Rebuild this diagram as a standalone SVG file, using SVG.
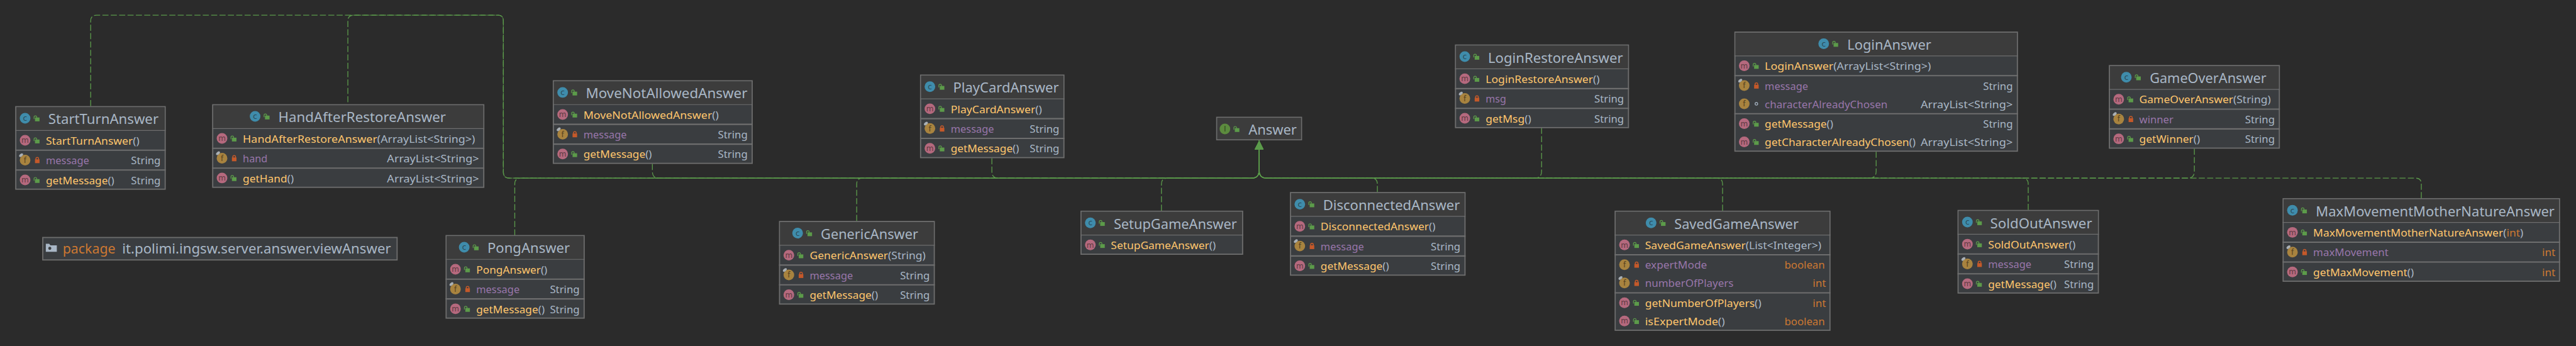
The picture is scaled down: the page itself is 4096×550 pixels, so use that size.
<svg xmlns="http://www.w3.org/2000/svg" width="4096" height="550" viewBox="0 0 4096 550">
<style>
text{font-family:"Noto Sans","Open Sans","Liberation Sans",sans-serif;font-size:28px;fill:#a9b7c6}
.t{font-size:35px}
.n{fill:#ffc66d}
.f{fill:#9876aa}
.p{fill:#cc7832}
.e{text-anchor:end}
.k{font-size:35px}
.l{font-family:"DejaVu Sans",sans-serif;font-size:20px;text-anchor:middle}
.fr{fill:#3a3d40;stroke:#6e6e6e;stroke-width:3}
.hd{fill:#3c3c3c}
.s1{stroke:#6e6e6e;stroke-width:2;fill:none}
.s2{stroke:#6e6e6e;stroke-width:3.5;fill:none}
.c{fill:none;stroke:#5b9a4b;stroke-width:2.2;stroke-dasharray:16 6;marker-end:url(#arr)}
</style>
<defs>
<marker id="arr" viewBox="0 0 24 24" markerUnits="userSpaceOnUse" markerWidth="24" markerHeight="24" refX="24" refY="12" orient="auto"><path d="M0 0L24 12L0 24Z" fill="#5b9a4b"/></marker>
<g id="pub"><path d="M23.5 2V-3a3.5 3.5 0 0 1 7 0V-1.5" fill="none" stroke="#5c9b4a" stroke-width="2"/><rect x="26" y="-2" width="12" height="10" fill="#5c9b4a"/></g>
<g id="pri"><path d="M28.5 0V-3.5a3.5 3.5 0 0 1 7 0V0" fill="none" stroke="#c4592a" stroke-width="2.5"/><rect x="26" y="-2" width="12" height="10" fill="#c4592a"/></g>
<g id="cc"><circle r="14" fill="#3f8cab"/><text class="l" y="7" style="fill:#2b4a57">c</text><use href="#pub"/></g>
<g id="ci"><circle r="14" fill="#5c8b3e"/><text class="l" y="7" style="fill:#2f4720">I</text><use href="#pub"/></g>
<g id="mp"><circle r="14" fill="#b5697e"/><text class="l" y="7" style="fill:#5e3a42">m</text><use href="#pub"/></g>
<g id="fb"><circle r="14" fill="#a8833f"/><text class="l" y="7" style="fill:#54401d">f</text></g>
<g id="fp"><use href="#fb"/><use href="#pri"/></g>
<g id="ff"><use href="#fp"/><ellipse cx="-10.5" cy="-13" rx="6" ry="3.5" transform="rotate(-40 -10.5 -13)" fill="#aab0b5"/></g>
<g id="fk"><use href="#fb"/><circle cx="32" r="3.5" fill="none" stroke="#a9b7c6" stroke-width="2"/></g>
</defs>
<rect width="4096" height="550" fill="#2b2b2b"/>
<g transform="scale(0.6045)">
<g id="connectors">
<path class="c" d="M238.5 279V55Q238.5 40 254 40H1310Q1324 40 1324 55V453Q1324 468.5 1340 468.5H3292Q3312 468.5 3312 448V370"/>
<path class="c" style="stroke-dashoffset:-5" d="M915 274V55Q915 40 930 40H1310Q1324 40 1324 55V453Q1324 468.5 1340 468.5H3292Q3312 468.5 3312 448V370"/>
<path class="c" d="M1354 619V484Q1354 468.5 1369 468.5H3292Q3312 468.5 3312 448V370"/>
<path class="c" d="M1716 431V450Q1716 468.5 1732 468.5H3292Q3312 468.5 3312 448V370"/>
<path class="c" d="M2253.5 581V484Q2253.5 468.5 2268 468.5H3292Q3312 468.5 3312 448V370"/>
<path class="c" d="M2609 416V450Q2609 468.5 2625 468.5H3292Q3312 468.5 3312 448V370"/>
<path class="c" d="M3055 554V484Q3055 468.5 3070 468.5H3292Q3312 468.5 3312 448V370"/>
<path class="c" d="M3623 505V484Q3623 468.5 3608 468.5H3332Q3312 468.5 3312 448V370"/>
<path class="c" d="M4055 336V450Q4055 468.5 4037 468.5H3332Q3312 468.5 3312 448V370"/>
<path class="c" d="M4531 554V484Q4531 468.5 4516 468.5H3332Q3312 468.5 3312 448V370"/>
<path class="c" d="M4935 399V450Q4935 468.5 4917 468.5H3332Q3312 468.5 3312 448V370"/>
<path class="c" d="M5335 552V484Q5335 468.5 5320 468.5H3332Q3312 468.5 3312 448V370"/>
<path class="c" d="M5772 391V450Q5772 468.5 5754 468.5H3332Q3312 468.5 3312 448V370"/>
<path class="c" d="M6369 521V484Q6369 468.5 6354 468.5H3332Q3312 468.5 3312 448V370"/>
</g>
<g id="package" transform="translate(111,623)">
<rect class="fr" x="1.5" y="1.5" width="932" height="59"/>
<path d="M9.5 18h9l3 4h17v17h-29Z" fill="#a9b7c6"/><circle cx="20" cy="30" r="4" fill="#3a3d40"/>
<text class="k p" x="54" y="44.5" textLength="138.6" lengthAdjust="spacingAndGlyphs">package</text>
<text class="k" x="210.4" y="44.5" textLength="707" lengthAdjust="spacingAndGlyphs">it.polimi.ingsw.server.answer.viewAnswer</text>
</g>
<g id="StartTurnAnswer" transform="translate(40,279)">
<rect class="fr" x="1.5" y="1.5" width="393" height="217"/><rect class="hd" x="3" y="3" width="390" height="60"/>
<path class="s1" d="M0 64H396"/><path class="s2" d="M0 116H396M0 168H396"/>
<use href="#cc" x="26" y="32"/><text class="t" x="87" y="47.7" textLength="290" lengthAdjust="spacingAndGlyphs">StartTurnAnswer</text>
<use href="#mp" x="26" y="90"/><text class="n" x="80.7" y="101" textLength="246" lengthAdjust="spacingAndGlyphs">StartTurnAnswer<tspan style="fill:#a9b7c6">()</tspan></text>
<use href="#ff" x="26" y="142"/><text class="f" x="80.7" y="153" textLength="114" lengthAdjust="spacingAndGlyphs">message</text><text class="e" x="382.5" y="153" textLength="78" lengthAdjust="spacingAndGlyphs">String</text>
<use href="#mp" x="26" y="194"/><text class="n" x="80.7" y="205" textLength="180" lengthAdjust="spacingAndGlyphs">getMessage<tspan style="fill:#a9b7c6">()</tspan></text><text class="e" x="382.5" y="205" textLength="78" lengthAdjust="spacingAndGlyphs">String</text>
</g>
<g id="HandAfterRestoreAnswer" transform="translate(558,274)">
<rect class="fr" x="1.5" y="1.5" width="713" height="217"/><rect class="hd" x="3" y="3" width="710" height="60"/>
<path class="s1" d="M0 64H716"/><path class="s2" d="M0 116H716M0 168H716"/>
<use href="#cc" x="113" y="32"/><text class="t" x="174" y="47.7" textLength="441" lengthAdjust="spacingAndGlyphs">HandAfterRestoreAnswer</text>
<use href="#mp" x="26" y="90"/><text class="n" x="80.7" y="101" textLength="611" lengthAdjust="spacingAndGlyphs">HandAfterRestoreAnswer<tspan style="fill:#a9b7c6">(ArrayList&lt;String&gt;)</tspan></text>
<use href="#ff" x="26" y="142"/><text class="f" x="80.7" y="153" textLength="65" lengthAdjust="spacingAndGlyphs">hand</text><text class="e" x="702" y="153" textLength="242" lengthAdjust="spacingAndGlyphs">ArrayList&lt;String&gt;</text>
<use href="#mp" x="26" y="194"/><text class="n" x="80.7" y="205" textLength="134" lengthAdjust="spacingAndGlyphs">getHand<tspan style="fill:#a9b7c6">()</tspan></text><text class="e" x="702" y="205" textLength="242" lengthAdjust="spacingAndGlyphs">ArrayList&lt;String&gt;</text>
</g>
<g id="PongAnswer" transform="translate(1172,618)">
<rect class="fr" x="1.5" y="1.5" width="363" height="217"/><rect class="hd" x="3" y="3" width="360" height="60"/>
<path class="s1" d="M0 64H366"/><path class="s2" d="M0 116H366M0 168H366"/>
<use href="#cc" x="49" y="32"/><text class="t" x="110" y="47.7" textLength="217" lengthAdjust="spacingAndGlyphs">PongAnswer</text>
<use href="#mp" x="26" y="90"/><text class="n" x="80.7" y="101" textLength="187" lengthAdjust="spacingAndGlyphs">PongAnswer<tspan style="fill:#a9b7c6">()</tspan></text>
<use href="#ff" x="26" y="142"/><text class="f" x="80.7" y="153" textLength="114" lengthAdjust="spacingAndGlyphs">message</text><text class="e" x="352.5" y="153" textLength="78" lengthAdjust="spacingAndGlyphs">String</text>
<use href="#mp" x="26" y="194"/><text class="n" x="80.7" y="205" textLength="180" lengthAdjust="spacingAndGlyphs">getMessage<tspan style="fill:#a9b7c6">()</tspan></text><text class="e" x="352.5" y="205" textLength="78" lengthAdjust="spacingAndGlyphs">String</text>
</g>
<g id="MoveNotAllowedAnswer" transform="translate(1454,211)">
<rect class="fr" x="1.5" y="1.5" width="523" height="217"/><rect class="hd" x="3" y="3" width="520" height="60"/>
<path class="s1" d="M0 64H526"/><path class="s2" d="M0 116H526M0 168H526"/>
<use href="#cc" x="26" y="32"/><text class="t" x="87" y="47.7" textLength="425" lengthAdjust="spacingAndGlyphs">MoveNotAllowedAnswer</text>
<use href="#mp" x="26" y="90"/><text class="n" x="80.7" y="101" textLength="356" lengthAdjust="spacingAndGlyphs">MoveNotAllowedAnswer<tspan style="fill:#a9b7c6">()</tspan></text>
<use href="#ff" x="26" y="142"/><text class="f" x="80.7" y="153" textLength="114" lengthAdjust="spacingAndGlyphs">message</text><text class="e" x="512.5" y="153" textLength="78" lengthAdjust="spacingAndGlyphs">String</text>
<use href="#mp" x="26" y="194"/><text class="n" x="80.7" y="205" textLength="180" lengthAdjust="spacingAndGlyphs">getMessage<tspan style="fill:#a9b7c6">()</tspan></text><text class="e" x="512.5" y="205" textLength="78" lengthAdjust="spacingAndGlyphs">String</text>
</g>
<g id="PlayCardAnswer" transform="translate(2420,196)">
<rect class="fr" x="1.5" y="1.5" width="377" height="217"/><rect class="hd" x="3" y="3" width="374" height="60"/>
<path class="s1" d="M0 64H380"/><path class="s2" d="M0 116H380M0 168H380"/>
<use href="#cc" x="26" y="32"/><text class="t" x="87" y="47.7" textLength="278" lengthAdjust="spacingAndGlyphs">PlayCardAnswer</text>
<use href="#mp" x="26" y="90"/><text class="n" x="80.7" y="101" textLength="240" lengthAdjust="spacingAndGlyphs">PlayCardAnswer<tspan style="fill:#a9b7c6">()</tspan></text>
<use href="#ff" x="26" y="142"/><text class="f" x="80.7" y="153" textLength="114" lengthAdjust="spacingAndGlyphs">message</text><text class="e" x="366.5" y="153" textLength="78" lengthAdjust="spacingAndGlyphs">String</text>
<use href="#mp" x="26" y="194"/><text class="n" x="80.7" y="205" textLength="180" lengthAdjust="spacingAndGlyphs">getMessage<tspan style="fill:#a9b7c6">()</tspan></text><text class="e" x="366.5" y="205" textLength="78" lengthAdjust="spacingAndGlyphs">String</text>
</g>
<g id="GenericAnswer" transform="translate(2049,581)">
<rect class="fr" x="1.5" y="1.5" width="407" height="217"/><rect class="hd" x="3" y="3" width="404" height="60"/>
<path class="s1" d="M0 64H410"/><path class="s2" d="M0 116H410M0 168H410"/>
<use href="#cc" x="49" y="32"/><text class="t" x="110" y="47.7" textLength="256" lengthAdjust="spacingAndGlyphs">GenericAnswer</text>
<use href="#mp" x="26" y="90"/><text class="n" x="80.7" y="101" textLength="305" lengthAdjust="spacingAndGlyphs">GenericAnswer<tspan style="fill:#a9b7c6">(String)</tspan></text>
<use href="#ff" x="26" y="142"/><text class="f" x="80.7" y="153" textLength="114" lengthAdjust="spacingAndGlyphs">message</text><text class="e" x="396.5" y="153" textLength="78" lengthAdjust="spacingAndGlyphs">String</text>
<use href="#mp" x="26" y="194"/><text class="n" x="80.7" y="205" textLength="180" lengthAdjust="spacingAndGlyphs">getMessage<tspan style="fill:#a9b7c6">()</tspan></text><text class="e" x="396.5" y="205" textLength="78" lengthAdjust="spacingAndGlyphs">String</text>
</g>
<g id="Answer" transform="translate(3199,307)">
<rect class="fr" x="1.5" y="1.5" width="223" height="59"/><rect class="hd" x="3" y="3" width="220" height="56"/>
<use href="#ci" x="23" y="32"/><text class="t" x="85" y="47.7" textLength="127" lengthAdjust="spacingAndGlyphs">Answer</text>
</g>
<g id="SetupGameAnswer" transform="translate(2842,554)">
<rect class="fr" x="1.5" y="1.5" width="425" height="113"/><rect class="hd" x="3" y="3" width="422" height="60"/>
<path class="s1" d="M0 64H428"/>
<use href="#cc" x="26" y="32"/><text class="t" x="87.5" y="47.7" textLength="324" lengthAdjust="spacingAndGlyphs">SetupGameAnswer</text>
<use href="#mp" x="26" y="90"/><text class="n" x="80" y="101" textLength="276" lengthAdjust="spacingAndGlyphs">SetupGameAnswer<tspan style="fill:#a9b7c6">()</tspan></text>
</g>
<g id="DisconnectedAnswer" transform="translate(3393,505)">
<rect class="fr" x="1.5" y="1.5" width="459" height="217"/><rect class="hd" x="3" y="3" width="456" height="60"/>
<path class="s1" d="M0 64H462"/><path class="s2" d="M0 116H462M0 168H462"/>
<use href="#cc" x="26" y="32"/><text class="t" x="87" y="47.7" textLength="360" lengthAdjust="spacingAndGlyphs">DisconnectedAnswer</text>
<use href="#mp" x="26" y="90"/><text class="n" x="80.7" y="101" textLength="302" lengthAdjust="spacingAndGlyphs">DisconnectedAnswer<tspan style="fill:#a9b7c6">()</tspan></text>
<use href="#ff" x="26" y="142"/><text class="f" x="80.7" y="153" textLength="114" lengthAdjust="spacingAndGlyphs">message</text><text class="e" x="448.5" y="153" textLength="78" lengthAdjust="spacingAndGlyphs">String</text>
<use href="#mp" x="26" y="194"/><text class="n" x="80.7" y="205" textLength="180" lengthAdjust="spacingAndGlyphs">getMessage<tspan style="fill:#a9b7c6">()</tspan></text><text class="e" x="448.5" y="205" textLength="78" lengthAdjust="spacingAndGlyphs">String</text>
</g>
<g id="LoginRestoreAnswer" transform="translate(3827,117)">
<rect class="fr" x="1.5" y="1.5" width="455" height="217"/><rect class="hd" x="3" y="3" width="452" height="60"/>
<path class="s1" d="M0 64H458"/><path class="s2" d="M0 116H458M0 168H458"/>
<use href="#cc" x="26" y="32"/><text class="t" x="87" y="47.7" textLength="355" lengthAdjust="spacingAndGlyphs">LoginRestoreAnswer</text>
<use href="#mp" x="26" y="90"/><text class="n" x="80.7" y="101" textLength="300" lengthAdjust="spacingAndGlyphs">LoginRestoreAnswer<tspan style="fill:#a9b7c6">()</tspan></text>
<use href="#ff" x="26" y="142"/><text class="f" x="80.7" y="153" textLength="54" lengthAdjust="spacingAndGlyphs">msg</text><text class="e" x="444.5" y="153" textLength="78" lengthAdjust="spacingAndGlyphs">String</text>
<use href="#mp" x="26" y="194"/><text class="n" x="80.7" y="205" textLength="120" lengthAdjust="spacingAndGlyphs">getMsg<tspan style="fill:#a9b7c6">()</tspan></text><text class="e" x="444.5" y="205" textLength="78" lengthAdjust="spacingAndGlyphs">String</text>
</g>
<g id="LoginAnswer" transform="translate(4562,83)">
<rect class="fr" x="1.5" y="1.5" width="743" height="313"/><rect class="hd" x="3" y="3" width="740" height="60"/>
<path class="s1" d="M0 64H746"/><path class="s2" d="M0 116H746M0 216H746"/>
<use href="#cc" x="235" y="32"/><text class="t" x="297" y="47.7" textLength="221" lengthAdjust="spacingAndGlyphs">LoginAnswer</text>
<use href="#mp" x="26" y="90"/><text class="n" x="80" y="101" textLength="437" lengthAdjust="spacingAndGlyphs">LoginAnswer<tspan style="fill:#a9b7c6">(ArrayList&lt;String&gt;)</tspan></text>
<use href="#ff" x="26" y="142"/><text class="f" x="80" y="153" textLength="114" lengthAdjust="spacingAndGlyphs">message</text><text class="e" x="732.5" y="153" textLength="78" lengthAdjust="spacingAndGlyphs">String</text>
<use href="#fk" x="26" y="190"/><text class="f" x="80" y="201" textLength="323" lengthAdjust="spacingAndGlyphs">characterAlreadyChosen</text><text class="e" x="732" y="201" textLength="242" lengthAdjust="spacingAndGlyphs">ArrayList&lt;String&gt;</text>
<use href="#mp" x="26" y="242"/><text class="n" x="80" y="253" textLength="180" lengthAdjust="spacingAndGlyphs">getMessage<tspan style="fill:#a9b7c6">()</tspan></text><text class="e" x="732.5" y="253" textLength="78" lengthAdjust="spacingAndGlyphs">String</text>
<use href="#mp" x="26" y="290"/><text class="n" x="80" y="301" textLength="397" lengthAdjust="spacingAndGlyphs">getCharacterAlreadyChosen<tspan style="fill:#a9b7c6">()</tspan></text><text class="e" x="732" y="301" textLength="242" lengthAdjust="spacingAndGlyphs">ArrayList&lt;String&gt;</text>
</g>
<g id="SavedGameAnswer" transform="translate(4247,554)">
<rect class="fr" x="1.5" y="1.5" width="565" height="313"/><rect class="hd" x="3" y="3" width="562" height="60"/>
<path class="s1" d="M0 64H568"/><path class="s2" d="M0 116H568M0 216H568"/>
<use href="#cc" x="96" y="32"/><text class="t" x="157" y="47.7" textLength="327" lengthAdjust="spacingAndGlyphs">SavedGameAnswer</text>
<use href="#mp" x="26" y="90"/><text class="n" x="80" y="101" textLength="464" lengthAdjust="spacingAndGlyphs">SavedGameAnswer<tspan style="fill:#a9b7c6">(List&lt;Integer&gt;)</tspan></text>
<use href="#fp" x="26" y="142"/><text class="f" x="80" y="153" textLength="163" lengthAdjust="spacingAndGlyphs">expertMode</text><text class="e p" x="553" y="153" textLength="106" lengthAdjust="spacingAndGlyphs">boolean</text>
<use href="#ff" x="26" y="190"/><text class="f" x="80" y="201" textLength="233" lengthAdjust="spacingAndGlyphs">numberOfPlayers</text><text class="e p" x="556" y="201" textLength="35" lengthAdjust="spacingAndGlyphs">int</text>
<use href="#mp" x="26" y="242"/><text class="n" x="80" y="253" textLength="306" lengthAdjust="spacingAndGlyphs">getNumberOfPlayers<tspan style="fill:#a9b7c6">()</tspan></text><text class="e p" x="556" y="253" textLength="35" lengthAdjust="spacingAndGlyphs">int</text>
<use href="#mp" x="26" y="290"/><text class="n" x="80" y="301" textLength="210" lengthAdjust="spacingAndGlyphs">isExpertMode<tspan style="fill:#a9b7c6">()</tspan></text><text class="e p" x="553" y="301" textLength="106" lengthAdjust="spacingAndGlyphs">boolean</text>
</g>
<g id="SoldOutAnswer" transform="translate(5149,552)">
<rect class="fr" x="1.5" y="1.5" width="369" height="217"/><rect class="hd" x="3" y="3" width="366" height="60"/>
<path class="s1" d="M0 64H372"/><path class="s2" d="M0 116H372M0 168H372"/>
<use href="#cc" x="26" y="32"/><text class="t" x="86" y="47.7" textLength="268" lengthAdjust="spacingAndGlyphs">SoldOutAnswer</text>
<use href="#mp" x="26" y="90"/><text class="n" x="80.5" y="101" textLength="230" lengthAdjust="spacingAndGlyphs">SoldOutAnswer<tspan style="fill:#a9b7c6">()</tspan></text>
<use href="#ff" x="26" y="142"/><text class="f" x="80.5" y="153" textLength="114" lengthAdjust="spacingAndGlyphs">message</text><text class="e" x="358.5" y="153" textLength="78" lengthAdjust="spacingAndGlyphs">String</text>
<use href="#mp" x="26" y="194"/><text class="n" x="80.5" y="205" textLength="180" lengthAdjust="spacingAndGlyphs">getMessage<tspan style="fill:#a9b7c6">()</tspan></text><text class="e" x="358.5" y="205" textLength="78" lengthAdjust="spacingAndGlyphs">String</text>
</g>
<g id="GameOverAnswer" transform="translate(5547,171)">
<rect class="fr" x="1.5" y="1.5" width="447" height="217"/><rect class="hd" x="3" y="3" width="444" height="60"/>
<path class="s1" d="M0 64H450"/><path class="s2" d="M0 116H450M0 168H450"/>
<use href="#cc" x="46" y="32"/><text class="t" x="107.5" y="47.7" textLength="307" lengthAdjust="spacingAndGlyphs">GameOverAnswer</text>
<use href="#mp" x="26" y="90"/><text class="n" x="80" y="101" textLength="346" lengthAdjust="spacingAndGlyphs">GameOverAnswer<tspan style="fill:#a9b7c6">(String)</tspan></text>
<use href="#ff" x="26" y="142"/><text class="f" x="80" y="153" textLength="90" lengthAdjust="spacingAndGlyphs">winner</text><text class="e" x="436.5" y="153" textLength="78" lengthAdjust="spacingAndGlyphs">String</text>
<use href="#mp" x="26" y="194"/><text class="n" x="80" y="205" textLength="160" lengthAdjust="spacingAndGlyphs">getWinner<tspan style="fill:#a9b7c6">()</tspan></text><text class="e" x="436.5" y="205" textLength="78" lengthAdjust="spacingAndGlyphs">String</text>
</g>
<g id="MaxMovementMotherNatureAnswer" transform="translate(6004,521)">
<rect class="fr" x="1.5" y="1.5" width="727" height="217"/><rect class="hd" x="3" y="3" width="724" height="60"/>
<path class="s1" d="M0 64H730"/><path class="s2" d="M0 116H730M0 168H730"/>
<use href="#cc" x="26" y="32"/><text class="t" x="87.5" y="47.7" textLength="628" lengthAdjust="spacingAndGlyphs">MaxMovementMotherNatureAnswer</text>
<use href="#mp" x="26" y="90"/><text class="n" x="80.5" y="101" textLength="553" lengthAdjust="spacingAndGlyphs">MaxMovementMotherNatureAnswer<tspan style="fill:#a9b7c6">(</tspan><tspan class="p">int</tspan><tspan style="fill:#a9b7c6">)</tspan></text>
<use href="#ff" x="26" y="142"/><text class="f" x="80.5" y="153" textLength="198" lengthAdjust="spacingAndGlyphs">maxMovement</text><text class="e p" x="717.6" y="153" textLength="35" lengthAdjust="spacingAndGlyphs">int</text>
<use href="#mp" x="26" y="194"/><text class="n" x="80.5" y="205" textLength="265" lengthAdjust="spacingAndGlyphs">getMaxMovement<tspan style="fill:#a9b7c6">()</tspan></text><text class="e p" x="717.6" y="205" textLength="35" lengthAdjust="spacingAndGlyphs">int</text>
</g>
</g>
</svg>
